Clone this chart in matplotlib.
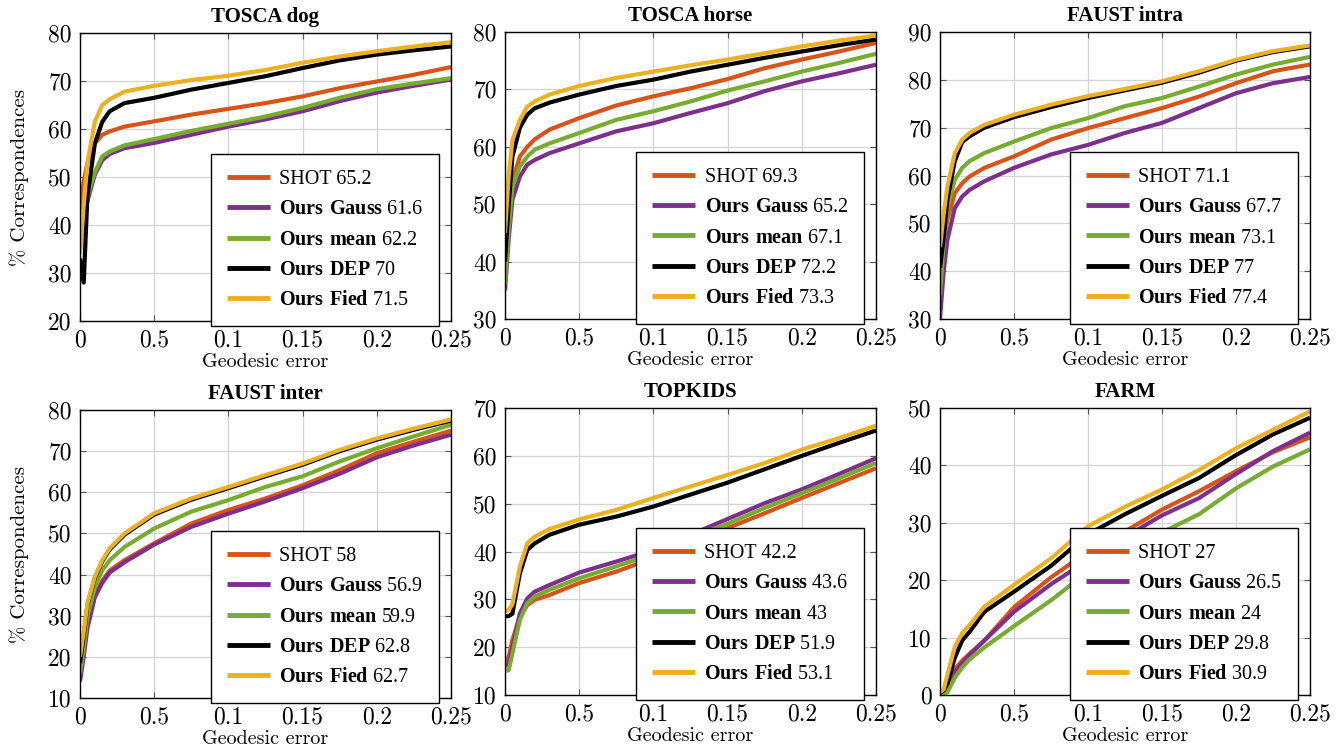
import matplotlib
matplotlib.use("Agg")
import matplotlib.pyplot as plt

plt.rcParams['mathtext.fontset'] = 'custom'
plt.rcParams['mathtext.rm'] = 'Liberation Serif'
plt.rcParams['mathtext.bf'] = 'Liberation Serif:bold'
plt.rcParams['axes.unicode_minus'] = False

# ---------------- data ----------------
geo_err = [0, 0.0025, 0.005, 0.01, 0.015, 0.02, 0.03, 0.05, 0.075, 0.1,
           0.125, 0.15, 0.175, 0.2, 0.225, 0.25]

x_ticks = [0, 0.05, 0.1, 0.15, 0.2, 0.25]
x_tick_labels = ["0", "0.5", "0.1", "0.15", "0.2", "0.25"]

methods = ["SHOT", "Ours Gauss", "Ours mean", "Ours DEP", "Ours Fied"]
colors = ["#D95319", "#7E2F8E", "#77AC30", "#000000", "#EDB120"]

titles = ["TOSCA dog", "TOSCA horse", "FAUST intra", "FAUST inter", "TOPKIDS", "FARM"]

# TOSCA dog
dog_shot  = [43, 49, 53, 57, 58.8, 59.5, 60.5, 61.6, 63.0, 64.2, 65.4, 66.8, 68.5, 69.9, 71.3, 72.9]
dog_gauss = [36, 41, 45, 50.5, 53.5, 54.8, 56.0, 57.1, 58.8, 60.5, 62.0, 63.7, 65.8, 67.6, 69.0, 70.3]
dog_mean  = [35, 41, 46, 51, 54.3, 55.3, 56.6, 57.9, 59.6, 61.1, 62.6, 64.4, 66.5, 68.3, 69.5, 70.6]
dog_dep   = [33, 28, 46, 57, 61.5, 63.7, 65.4, 66.5, 68.2, 69.6, 71.0, 72.7, 74.3, 75.5, 76.4, 77.2]
dog_fied  = [34, 44, 53, 61.5, 65, 66.2, 67.8, 69.0, 70.2, 71.1, 72.3, 73.8, 75.1, 76.2, 77.2, 78.1]
dog_scores = ["65.2", "61.6", "62.2", "70", "71.5"]

# TOSCA horse
horse_shot  = [48, 51, 54, 58.3, 60.0, 61.3, 63.0, 65.0, 67.2, 68.8, 70.2, 71.8, 73.7, 75.2, 76.6, 78.1]
horse_gauss = [35, 44, 50.8, 54.8, 56.9, 57.7, 58.9, 60.6, 62.7, 64.1, 65.9, 67.6, 69.7, 71.4, 72.8, 74.3]
horse_mean  = [36, 46, 53, 56.6, 58.3, 59.5, 60.6, 62.4, 64.7, 66.2, 67.9, 69.8, 71.4, 73.1, 74.6, 76.2]
horse_dep   = [40, 50, 58.3, 63.3, 65.6, 66.7, 67.7, 69.1, 70.6, 71.7, 73.1, 74.3, 75.5, 76.6, 77.7, 78.7]
horse_fied  = [45, 55, 61.2, 64.7, 67.0, 67.9, 69.1, 70.6, 72.0, 73.1, 74.2, 75.2, 76.3, 77.5, 78.5, 79.4]
horse_scores = ["69.3", "65.2", "67.1", "72.2", "73.3"]

# FAUST intra
intra_shot  = [40, 46, 50.8, 56.3, 58.4, 59.8, 61.6, 64.0, 67.5, 69.9, 72.0, 74.1, 76.5, 79.3, 81.8, 83.2]
intra_gauss = [30, 40, 46.6, 53.2, 55.6, 57.0, 58.8, 61.6, 64.4, 66.4, 68.9, 71.0, 74.1, 77.2, 79.3, 80.6]
intra_mean  = [35, 46, 53.5, 59.1, 61.6, 63.0, 64.7, 67.1, 69.9, 72.0, 74.5, 76.2, 78.6, 81.1, 83.2, 84.8]
intra_dep   = [40.7, 47, 55, 63, 67, 68.2, 70.0, 72.2, 74.3, 76.2, 77.8, 79.4, 81.5, 84.0, 85.8, 87.0]
intra_fied  = [45, 52, 57.7, 64.7, 67.5, 68.9, 70.6, 72.7, 74.8, 76.6, 78.1, 79.7, 81.8, 84.2, 86.0, 87.2]
intra_scores = ["71.1", "67.7", "73.1", "77", "77.4"]

# FAUST inter
inter_shot  = [18, 22, 28, 35, 38.5, 41.0, 43.5, 47.6, 52.4, 55.7, 58.5, 61.7, 65.4, 69.5, 72.3, 75.0]
inter_gauss = [14, 20, 27, 34.5, 38.0, 40.5, 43.0, 47.3, 51.6, 54.8, 57.8, 61.0, 64.5, 68.5, 71.4, 74.0]
inter_mean  = [16, 22, 29.7, 37, 41.0, 43.5, 46.7, 51.2, 55.3, 58.1, 61.3, 63.9, 67.5, 70.7, 73.6, 76.4]
inter_dep   = [18.5, 25, 32.7, 39.2, 43.2, 46.1, 49.7, 54.6, 58.2, 61.0, 63.9, 66.7, 70.0, 72.8, 75.2, 77.4]
inter_fied  = [20, 26, 33.0, 39.5, 43.5, 46.4, 50.0, 54.9, 58.5, 61.3, 64.2, 67.0, 70.3, 73.1, 75.5, 77.7]
inter_scores = ["58", "56.9", "59.9", "62.8", "62.7"]

# TOPKIDS
top_shot  = [17, 18, 21.5, 26.4, 28.8, 29.9, 30.9, 33.4, 35.8, 38.6, 41.7, 44.9, 48.0, 51.2, 54.3, 57.4]
top_gauss = [16, 16.6, 20, 27.0, 30.2, 31.6, 33.0, 35.6, 37.9, 40.3, 43.5, 46.8, 50.1, 53.0, 56.2, 59.5]
top_mean  = [15, 15.2, 18.7, 25.7, 29.2, 30.6, 32.0, 34.4, 36.9, 39.5, 42.8, 45.8, 49.1, 52.2, 55.3, 58.5]
top_dep   = [26.5, 26.5, 27, 35.4, 40.3, 41.7, 43.5, 45.6, 47.3, 49.4, 51.9, 54.4, 57.2, 60.0, 62.7, 65.3]
top_fied  = [27.5, 27.8, 29, 36.8, 41.7, 43.1, 44.7, 46.7, 48.7, 51.2, 53.6, 56.0, 58.5, 61.3, 63.7, 66.3]
top_scores = ["42.2", "43.6", "43", "51.9", "53.1"]

# FARM
farm_shot  = [0, 0.5, 1.5, 4.5, 6.0, 7.2, 9.5, 15.3, 20.5, 25.0, 28.5, 32.3, 35.5, 39.0, 42.3, 44.9]
farm_gauss = [0, 0.4, 1.2, 4.0, 5.6, 7.0, 9.5, 14.5, 19.3, 23.5, 27.5, 31.3, 34.3, 38.5, 42.5, 45.7]
farm_mean  = [0, 0.1, 0.5, 3.0, 4.8, 6.2, 8.3, 12.0, 16.5, 21.5, 25.0, 28.3, 31.5, 36.0, 39.8, 42.8]
farm_dep   = [0.3, 0.8, 2.0, 6.5, 9.5, 11.0, 14.5, 18.0, 22.5, 28.0, 31.5, 34.7, 37.8, 41.8, 45.4, 48.3]
farm_fied  = [0.5, 1.0, 3.5, 8.4, 10.8, 12.2, 15.4, 19.2, 23.8, 29.4, 32.8, 35.8, 39.2, 43.0, 46.2, 49.4]
farm_scores = ["27", "26.5", "24", "29.8", "30.9"]

y_ticks = [
    [20, 30, 40, 50, 60, 70, 80],
    [30, 40, 50, 60, 70, 80],
    [30, 40, 50, 60, 70, 80, 90],
    [10, 20, 30, 40, 50, 60, 70, 80],
    [10, 20, 30, 40, 50, 60, 70],
    [0, 10, 20, 30, 40, 50],
]

panels = [
    [dog_shot, dog_gauss, dog_mean, dog_dep, dog_fied],
    [horse_shot, horse_gauss, horse_mean, horse_dep, horse_fied],
    [intra_shot, intra_gauss, intra_mean, intra_dep, intra_fied],
    [inter_shot, inter_gauss, inter_mean, inter_dep, inter_fied],
    [top_shot, top_gauss, top_mean, top_dep, top_fied],
    [farm_shot, farm_gauss, farm_mean, farm_dep, farm_fied],
]
scores = [dog_scores, horse_scores, intra_scores, inter_scores, top_scores, farm_scores]

# ---------------- layout (pixel boxes: left, top, right, bottom) ----------------
W, H = 1343, 748
boxes = [
    (80, 33, 451, 321), (505, 32, 876, 319), (940, 32, 1310, 319),
    (80, 410, 451, 698), (505, 408, 876, 695), (940, 408, 1310, 695),
]

fig = plt.figure(figsize=(W / 100, H / 100), dpi=100)

tick_font = dict(family='cmr10', size=17)

for i, (l, t, r, b) in enumerate(boxes):
    ax = fig.add_axes([l / W, 1 - b / H, (r - l) / W, (b - t) / H])
    for j, series in enumerate(panels[i]):
        name = methods[j]
        if name == "SHOT":
            lab = f"SHOT {scores[i][j]}"
        else:
            lab = r"$\mathbf{" + name.replace(" ", r"\ ") + "}$ " + scores[i][j]
        ax.plot(geo_err, series, color=colors[j], lw=3.0, label=lab,
                solid_joinstyle='round', solid_capstyle='butt')
    ax.set_xlim(0, 0.25)
    yt = y_ticks[i]
    ax.set_ylim(yt[0], yt[-1])
    ax.set_xticks(x_ticks)
    ax.set_xticklabels(x_tick_labels, fontdict=tick_font)
    ax.set_yticks(yt)
    ax.set_yticklabels([str(v) for v in yt], fontdict=tick_font)
    ax.tick_params(axis='both', direction='in', length=4, width=0.8, top=True,
                   right=True, color='#555555')
    ax.tick_params(axis='x', pad=6)
    ax.tick_params(axis='y', pad=6)
    ax.grid(True, color='#d4d4d4', lw=0.9)
    ax.set_axisbelow(True)
    for s in ax.spines.values():
        s.set_linewidth(1.0)
        s.set_color('black')
    ax.set_title(titles[i], fontfamily='Liberation Serif', fontweight='bold',
                 fontsize=15, pad=8)
    ax.set_xlabel("Geodesic error", fontfamily='cmr10', fontsize=14.5, labelpad=1)
    if i in (0, 3):
        ax.set_ylabel("% Correspondences", fontfamily='cmr10', fontsize=15, labelpad=14)
    leg = ax.legend(loc='lower right', bbox_to_anchor=(0.968, -0.016),
                    borderaxespad=0, fancybox=False, framealpha=1,
                    edgecolor='black', prop={'family': 'Liberation Serif', 'size': 14.5},
                    handlelength=2.15, handletextpad=0.45, labelspacing=0.55,
                    borderpad=0.78)
    leg.get_frame().set_linewidth(1.0)
    for line in leg.get_lines():
        line.set_linewidth(3.5)

fig.savefig("out.png", dpi=100)
